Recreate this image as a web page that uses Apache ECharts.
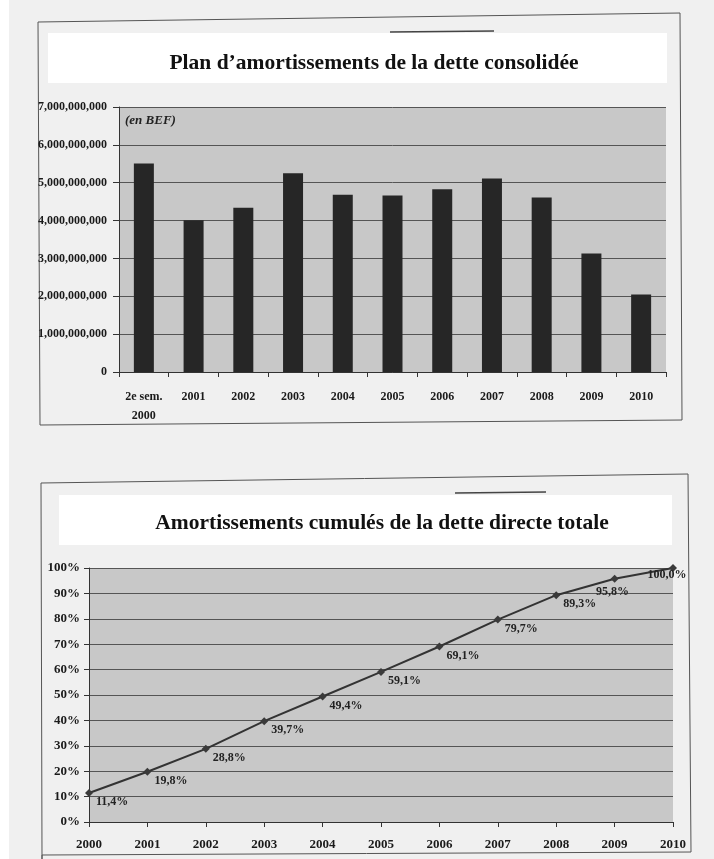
<!DOCTYPE html>
<html>
<head>
<meta charset="utf-8">
<script src="https://cdn.jsdelivr.net/npm/echarts@6/dist/echarts.min.js"></script>
<style>
  html, body { margin: 0; padding: 0; background: #f0f0f0; }
  #chart { width: 714px; height: 859px; }
</style>
</head>
<body>
<div id="chart"></div>
<script>
// ---- Data ----
const barTitle = 'Plan d\u2019amortissements de la dette consolidée';
const barUnit = '(en BEF)';
const barCategories = ['2e sem.\n2000', '2001', '2002', '2003', '2004', '2005', '2006', '2007', '2008', '2009', '2010'];
const barValues = [5510000000, 4010000000, 4340000000, 5250000000, 4680000000, 4660000000, 4830000000, 5110000000, 4610000000, 3130000000, 2050000000];

const lineTitle = 'Amortissements cumulés de la dette directe totale';
const lineCategories = ['2000', '2001', '2002', '2003', '2004', '2005', '2006', '2007', '2008', '2009', '2010'];
const lineValues = [11.4, 19.8, 28.8, 39.7, 49.4, 59.1, 69.1, 79.7, 89.3, 95.8, 100.0];

// ---- Helpers ----
const SERIF = '"Liberation Serif", "Times New Roman", serif';
function withCommas(v) {
  return String(Math.round(v)).replace(/\B(?=(\d{3})+(?!\d))/g, ',');
}
function pct(v) {
  return v.toFixed(1).replace('.', ',') + '%';
}

const chart = echarts.init(document.getElementById('chart'), null, { renderer: 'canvas' });

const lineData = lineValues.map(function (v, i) {
  if (i === lineValues.length - 2) {
    return { value: v, label: { position: 'bottom', distance: 3, offset: [-2, 0] } };
  }
  if (i === lineValues.length - 1) {
    return { value: v, label: { position: 'bottom', distance: 0, offset: [-6, -3] } };
  }
  return v;
});

const option = {
  backgroundColor: '#f0f0f0',
  animation: false,
  graphic: [
    { type: 'rect', z: -20, shape: { x: 0, y: 0, width: 9, height: 859 }, style: { fill: '#ffffff' } },
    { type: 'polygon', z: -10, shape: { points: [[38, 22], [680, 13], [682, 420], [40, 425]] },
      style: { fill: 'none', stroke: '#555', lineWidth: 1 } },
    { type: 'line', z: -10, shape: { x1: 390, y1: 32, x2: 494, y2: 31 }, style: { stroke: '#444', lineWidth: 1.5 } },
    { type: 'rect', z: -5, shape: { x: 48, y: 33, width: 619, height: 50 }, style: { fill: '#ffffff' } },
    { type: 'polygon', z: -10, shape: { points: [[42, 859], [41, 483], [688, 474], [691, 852], [42, 855]] },
      style: { fill: 'none', stroke: '#555', lineWidth: 1 } },
    { type: 'line', z: -10, shape: { x1: 455, y1: 493, x2: 546, y2: 492 }, style: { stroke: '#444', lineWidth: 1.5 } },
    { type: 'rect', z: -5, shape: { x: 59, y: 495, width: 613, height: 50 }, style: { fill: '#ffffff' } },
    { type: 'text', z: 10, left: 125, top: 114,
      style: { text: barUnit, font: 'italic bold 13px ' + SERIF, fill: '#222' } }
  ],
  title: [
    { text: barTitle, left: 369, top: 47, textAlign: 'center',
      textStyle: { fontFamily: SERIF, fontWeight: 'bold', fontSize: 21.5, color: '#111' } },
    { text: lineTitle, left: 377, top: 507, textAlign: 'center',
      textStyle: { fontFamily: SERIF, fontWeight: 'bold', fontSize: 21.5, color: '#111' } }
  ],
  grid: [
    { left: 119, top: 107, right: 48, bottom: 487, show: true, backgroundColor: '#c8c8c8', borderWidth: 0 },
    { left: 89, top: 568, right: 41, bottom: 37, show: true, backgroundColor: '#c8c8c8', borderWidth: 0 }
  ],
  xAxis: [
    { type: 'category', gridIndex: 0, data: barCategories, boundaryGap: true,
      axisLine: { lineStyle: { color: '#333', width: 1 } },
      axisTick: { show: true, length: 5, lineStyle: { color: '#333' } },
      axisLabel: { fontFamily: SERIF, fontWeight: 'bold', fontSize: 12, color: '#1a1a1a', margin: 15, lineHeight: 19, interval: 0 },
      splitLine: { show: false } },
    { type: 'category', gridIndex: 1, data: lineCategories, boundaryGap: false,
      axisLine: { lineStyle: { color: '#333', width: 1 } },
      axisTick: { show: true, length: 5, lineStyle: { color: '#333' } },
      axisLabel: { fontFamily: SERIF, fontWeight: 'bold', fontSize: 13, color: '#1a1a1a', margin: 16, interval: 0 },
      splitLine: { show: false } }
  ],
  yAxis: [
    { type: 'value', gridIndex: 0, min: 0, max: 7000000000, interval: 1000000000,
      axisLine: { show: true, lineStyle: { color: '#333', width: 1 } },
      axisTick: { show: true, length: 6, lineStyle: { color: '#333' } },
      axisLabel: { fontFamily: SERIF, fontWeight: 'bold', fontSize: 12, color: '#1a1a1a', margin: 12,
        formatter: withCommas },
      splitLine: { show: true, lineStyle: { color: '#555', width: 1 } } },
    { type: 'value', gridIndex: 1, min: 0, max: 100, interval: 10,
      axisLine: { show: true, lineStyle: { color: '#333', width: 1 } },
      axisTick: { show: true, length: 5, lineStyle: { color: '#333' } },
      axisLabel: { fontFamily: SERIF, fontWeight: 'bold', fontSize: 13, color: '#1a1a1a', margin: 9,
        formatter: '{value}%' },
      splitLine: { show: true, lineStyle: { color: '#555', width: 1 } } }
  ],
  series: [
    { type: 'bar', xAxisIndex: 0, yAxisIndex: 0, data: barValues, barWidth: 20,
      itemStyle: { color: '#262626' } },
    { type: 'line', xAxisIndex: 1, yAxisIndex: 1, data: lineData,
      symbol: 'diamond', symbolSize: 8,
      lineStyle: { color: '#333', width: 2 },
      itemStyle: { color: '#3a3a3a' },
      label: { show: true, position: 'right', distance: 3, offset: [0, 9],
        fontFamily: SERIF, fontWeight: 'bold', fontSize: 12, color: '#222',
        formatter: function (p) { return pct(p.value); } } }
  ]
};

chart.setOption(option);
</script>
</body>
</html>
